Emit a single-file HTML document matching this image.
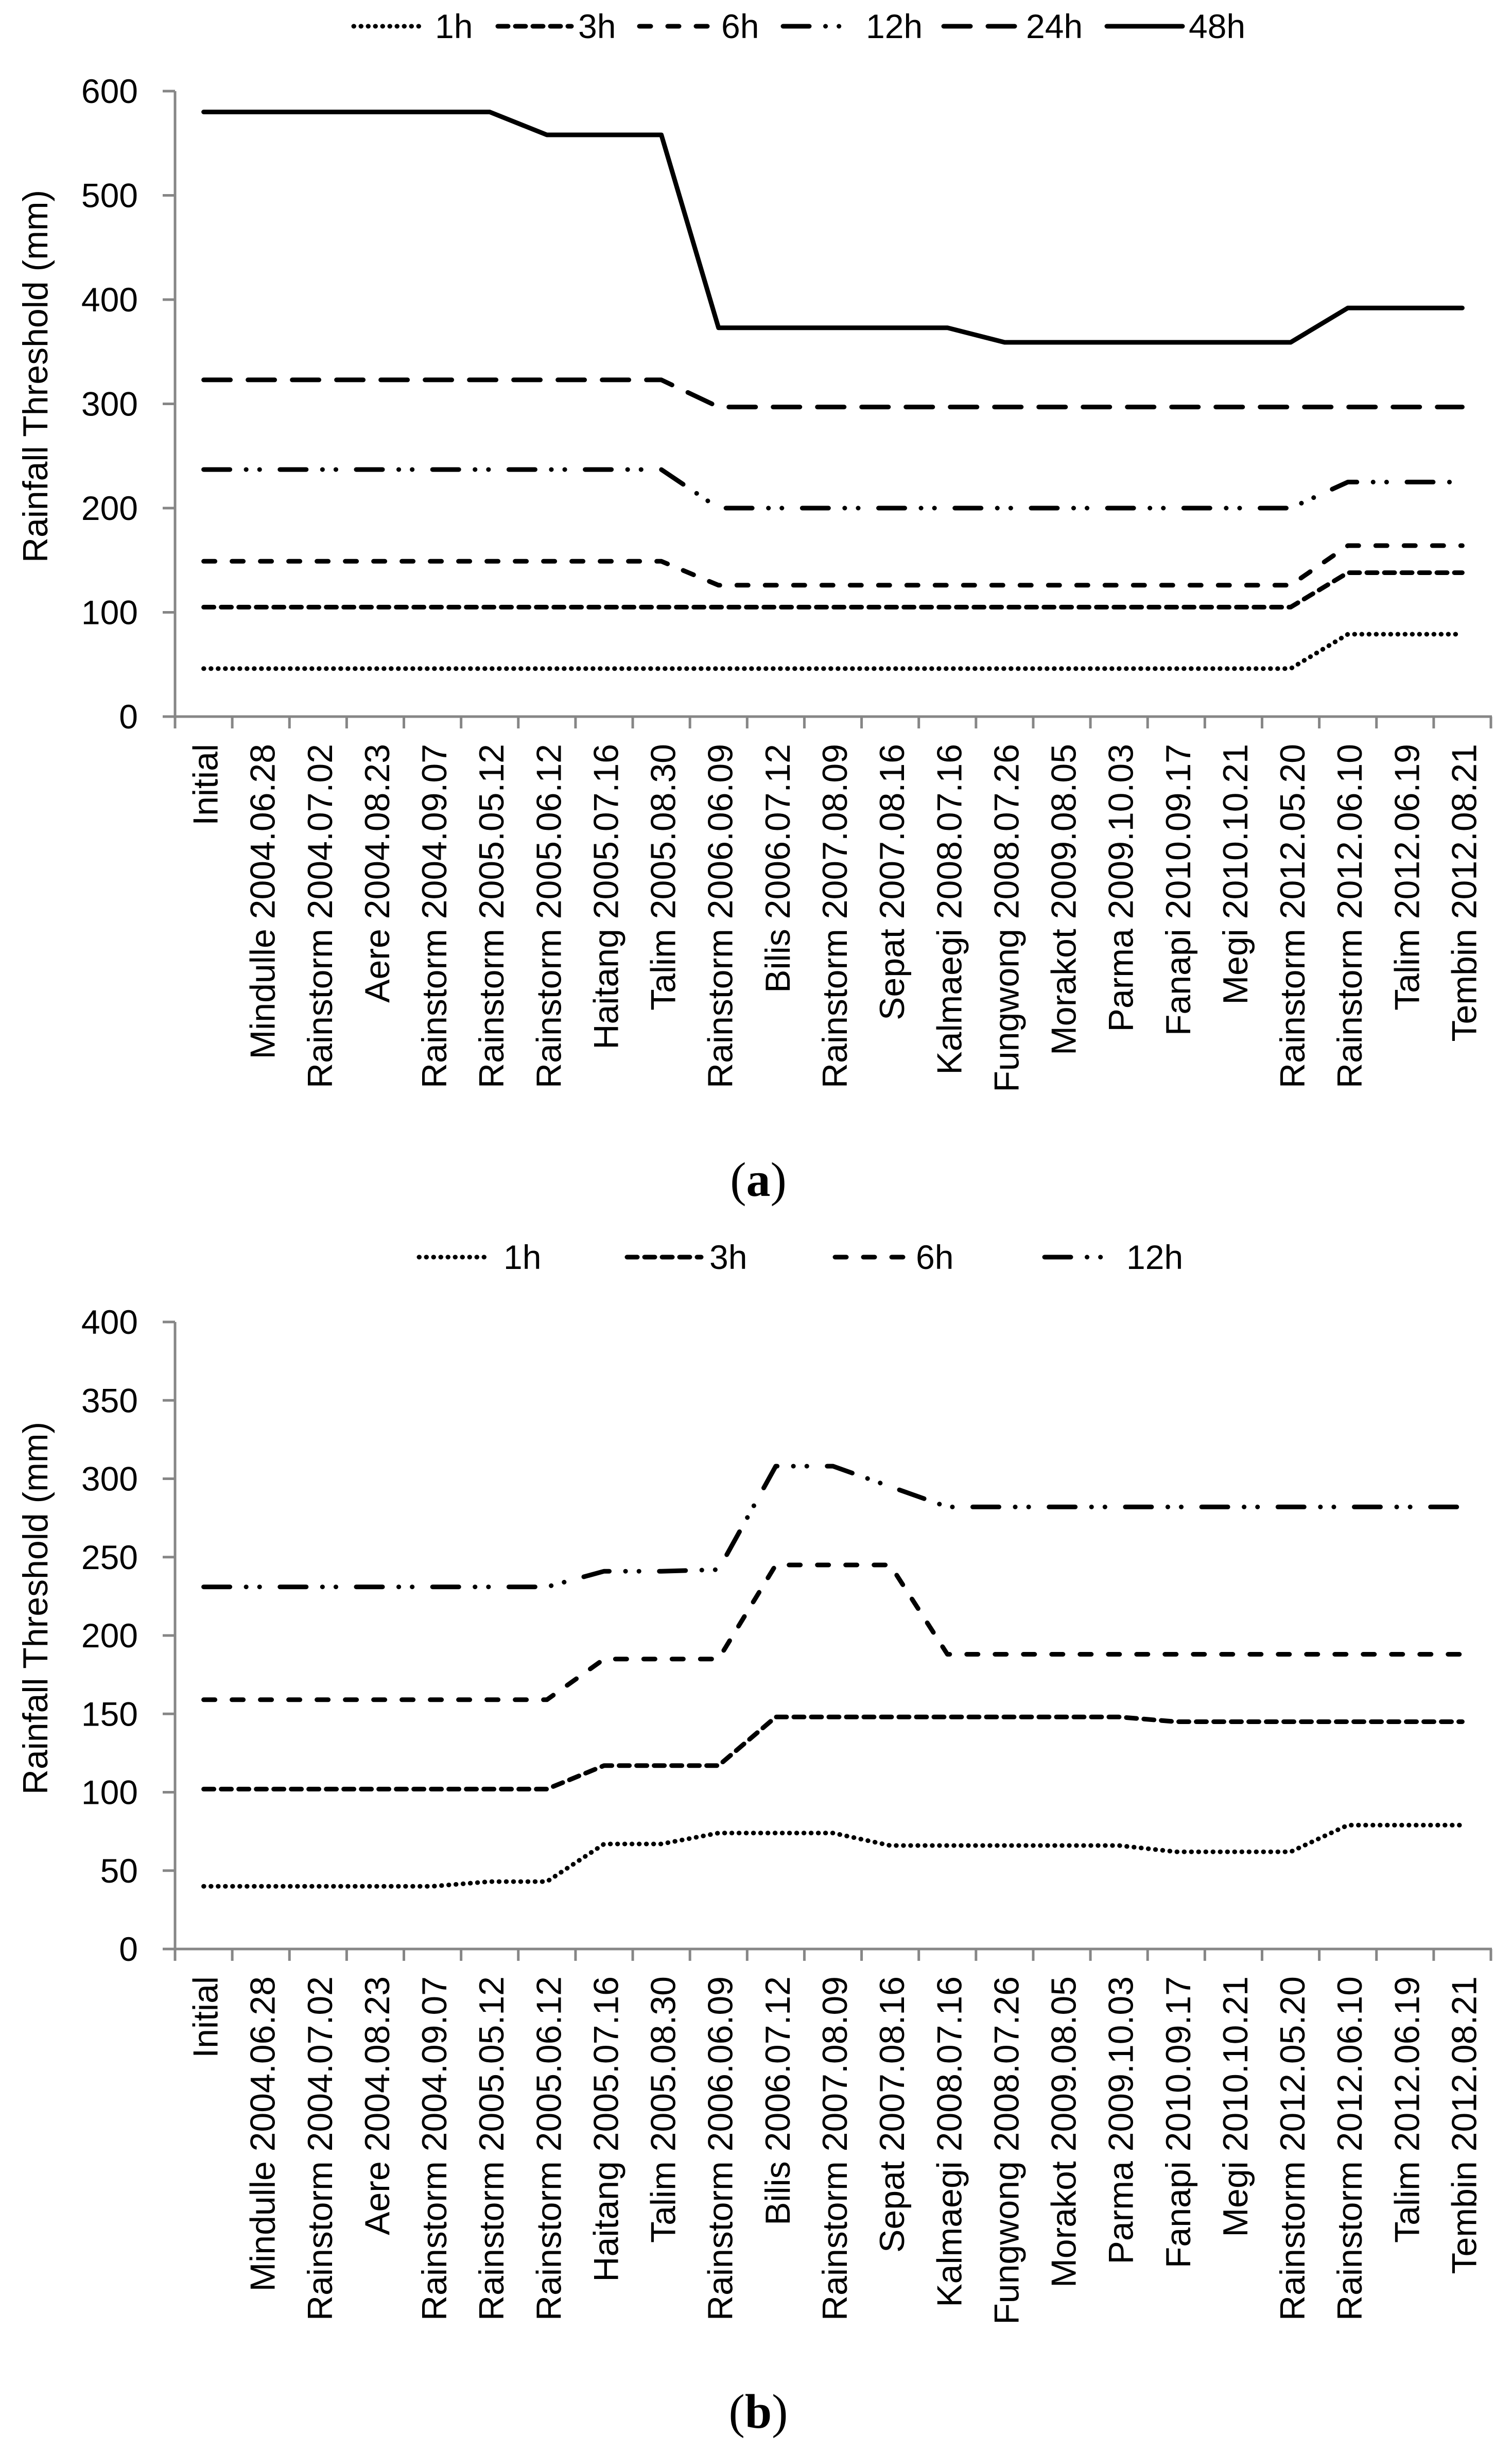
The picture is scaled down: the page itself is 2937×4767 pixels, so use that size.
<!DOCTYPE html>
<html>
<head>
<meta charset="utf-8">
<style>
  html,body{margin:0;padding:0;background:#fff;}
  svg{display:block;}
  text{font-family:"Liberation Sans",sans-serif;fill:#000;}
</style>
</head>
<body>
<svg id="fig" width="2937" height="4767" viewBox="0 0 2937 4767" xmlns="http://www.w3.org/2000/svg">
  <rect width="2937" height="4767" fill="#fff"/>
  <g id="chartA"></g>
  <g id="chartB"></g>
  <text x="1473" y="2323" text-anchor="middle" style="font-family:'Liberation Serif',serif;font-size:94px;"><tspan>(</tspan><tspan font-weight="bold">a</tspan><tspan>)</tspan></text>
  <text x="1473" y="4716" text-anchor="middle" style="font-family:'Liberation Serif',serif;font-size:94px;"><tspan>(</tspan><tspan font-weight="bold">b</tspan><tspan>)</tspan></text>
</svg>
<script>
const categories = ["Initial","Mindulle 2004.06.28","Rainstorm 2004.07.02","Aere 2004.08.23","Rainstorm 2004.09.07","Rainstorm 2005.05.12","Rainstorm 2005.06.12","Haitang 2005.07.16","Talim 2005.08.30","Rainstorm 2006.06.09","Bilis 2006.07.12","Rainstorm 2007.08.09","Sepat 2007.08.16","Kalmaegi 2008.07.16","Fungwong 2008.07.26","Morakot 2009.08.05","Parma 2009.10.03","Fanapi 2010.09.17","Megi 2010.10.21","Rainstorm 2012.05.20","Rainstorm 2012.06.10","Talim 2012.06.19","Tembin 2012.08.21"];

// Chart (a)
const a1h  = [46,46,46,46,46,46,46,46,46,46,46,46,46,46,46,46,46,46,46,46,79,79,79];
const a3h  = [105,105,105,105,105,105,105,105,105,105,105,105,105,105,105,105,105,105,105,105,138,138,138];
const a6h  = [149,149,149,149,149,149,149,149,149,126,126,126,126,126,126,126,126,126,126,126,164,164,164];
const a12h = [237,237,237,237,237,237,237,237,237,200,200,200,200,200,200,200,200,200,200,200,225,225,225];
const a24h = [323,323,323,323,323,323,323,323,323,297,297,297,297,297,297,297,297,297,297,297,297,297,297];
const a48h = [580,580,580,580,580,580,558,558,558,373,373,373,373,373,359,359,359,359,359,359,392,392,392];
const aTicks = [0,100,200,300,400,500,600];

// Chart (b)
const b1h  = [40,40,40,40,40,43,43,67,67,74,74,74,66,66,66,66,66,62,62,62,79,79,79];
const b3h  = [102,102,102,102,102,102,102,117,117,117,148,148,148,148,148,148,148,145,145,145,145,145,145];
const b6h  = [159,159,159,159,159,159,159,185,185,185,245,245,245,188,188,188,188,188,188,188,188,188,188];
const b12h = [231,231,231,231,231,231,231,241,241,242,308,308,295,282,282,282,282,282,282,282,282,282,282];
const bTicks = [0,50,100,150,200,250,300,350,400];

const NS = "http://www.w3.org/2000/svg";
const dashes = {
  "1h": "0.5 13.5",
  "3h": "20 14",
  "6h": "22 33",
  "12h": "51 31.5 0.1 26 0.1 39.5",
  "24h": "52 34",
  "48h": ""
};

function mk(parent, tag, attrs) {
  const e = document.createElementNS(NS, tag);
  for (const k in attrs) e.setAttribute(k, attrs[k]);
  parent.appendChild(e);
  return e;
}

function drawChart(g, cfg) {
  const xL = 340, xR = 2896, n = categories.length;
  const step = (xR - xL) / n;
  const xOf = i => xL + (i + 0.5) * step;
  const yOf = v => cfg.y0 - (v - cfg.vmin) / (cfg.vmax - cfg.vmin) * (cfg.y0 - cfg.yTop);

  // legend
  cfg.legend.forEach(L => {
    const ln = mk(g, "line", {x1: L.x1, x2: L.x2, y1: cfg.legY, y2: cfg.legY, stroke: "#000", "stroke-width": 9, "stroke-linecap": "round", "stroke-dasharray": dashes[L.key]});
    
    
    const t = mk(g, "text", {x: L.tx, y: cfg.legY + 23, "font-size": 66});
    t.textContent = L.key;
    
    
  });

  // y axis
  const ya = mk(g, "line", {x1: xL, x2: xL, y1: cfg.yTop, y2: cfg.y0, stroke: "#868686", "stroke-width": 5});
  
  
  cfg.ticks.forEach(v => {
    const y = yOf(v);
    const tk = mk(g, "line", {x1: 316, x2: xL, y1: y, y2: y, stroke: "#868686", "stroke-width": 5});
    
    
    const t = mk(g, "text", {x: 268, y: y + 23, "font-size": 66, "text-anchor": "end"});
    t.textContent = v;
    
    
  });
  const yt = mk(g, "text", {x: 0, y: 0, "font-size": 68, "text-anchor": "middle", transform: "translate(92," + cfg.titleY + ") rotate(-90)"});
  yt.textContent = "Rainfall Threshold (mm)";
  
  

  // x axis
  const xa = mk(g, "line", {x1: xL - 2, x2: xR + 2, y1: cfg.y0, y2: cfg.y0, stroke: "#868686", "stroke-width": 5});
  
  
  for (let k = 0; k <= n; k++) {
    const x = xL + k * step;
    const tk = mk(g, "line", {x1: x, x2: x, y1: cfg.y0, y2: cfg.y0 + 23, stroke: "#868686", "stroke-width": 5});
    
    
  }
  categories.forEach((c, i) => {
    const bx = xOf(i) + 27, by = cfg.y0 + 53;
    const t = mk(g, "text", {x: 0, y: 0, "font-size": 68, "text-anchor": "end", transform: "translate(" + bx + "," + by + ") rotate(-90)"});
    t.textContent = c;
    
    
  });

  // series
  cfg.series.forEach(S => {
    const pts = S.values.map((v, i) => xOf(i).toFixed(1) + "," + yOf(v).toFixed(1)).join(" ");
    const p = mk(g, "polyline", {points: pts, fill: "none", stroke: "#000", "stroke-width": 9, "stroke-linecap": "round", "stroke-linejoin": "round", "stroke-dasharray": dashes[S.key]});
    
    
  });
}

drawChart(document.getElementById("chartA"), {
  y0: 1392, yTop: 177, vmin: 0, vmax: 600, ticks: aTicks, titleY: 731, legY: 51,
  legend: [
    {key: "1h", x1: 687, x2: 817, tx: 845},
    {key: "3h", x1: 967, x2: 1110, tx: 1123},
    {key: "6h", x1: 1242, x2: 1381, tx: 1401},
    {key: "12h", x1: 1521, x2: 1640, tx: 1682},
    {key: "24h", x1: 1833, x2: 1977, tx: 1993},
    {key: "48h", x1: 2150, x2: 2297, tx: 2309}
  ],
  series: [
    {key: "1h", values: a1h}, {key: "3h", values: a3h}, {key: "6h", values: a6h},
    {key: "12h", values: a12h}, {key: "24h", values: a24h}, {key: "48h", values: a48h}
  ]
});

drawChart(document.getElementById("chartB"), {
  y0: 3786, yTop: 2568, vmin: 0, vmax: 400, ticks: bTicks, titleY: 3124, legY: 2442,
  legend: [
    {key: "1h", x1: 814, x2: 947, tx: 978},
    {key: "3h", x1: 1218, x2: 1362, tx: 1378},
    {key: "6h", x1: 1622, x2: 1757, tx: 1779},
    {key: "12h", x1: 2029, x2: 2153, tx: 2188}
  ],
  series: [
    {key: "1h", values: b1h}, {key: "3h", values: b3h}, {key: "6h", values: b6h}, {key: "12h", values: b12h}
  ]
});
</script>
</body>
</html>
